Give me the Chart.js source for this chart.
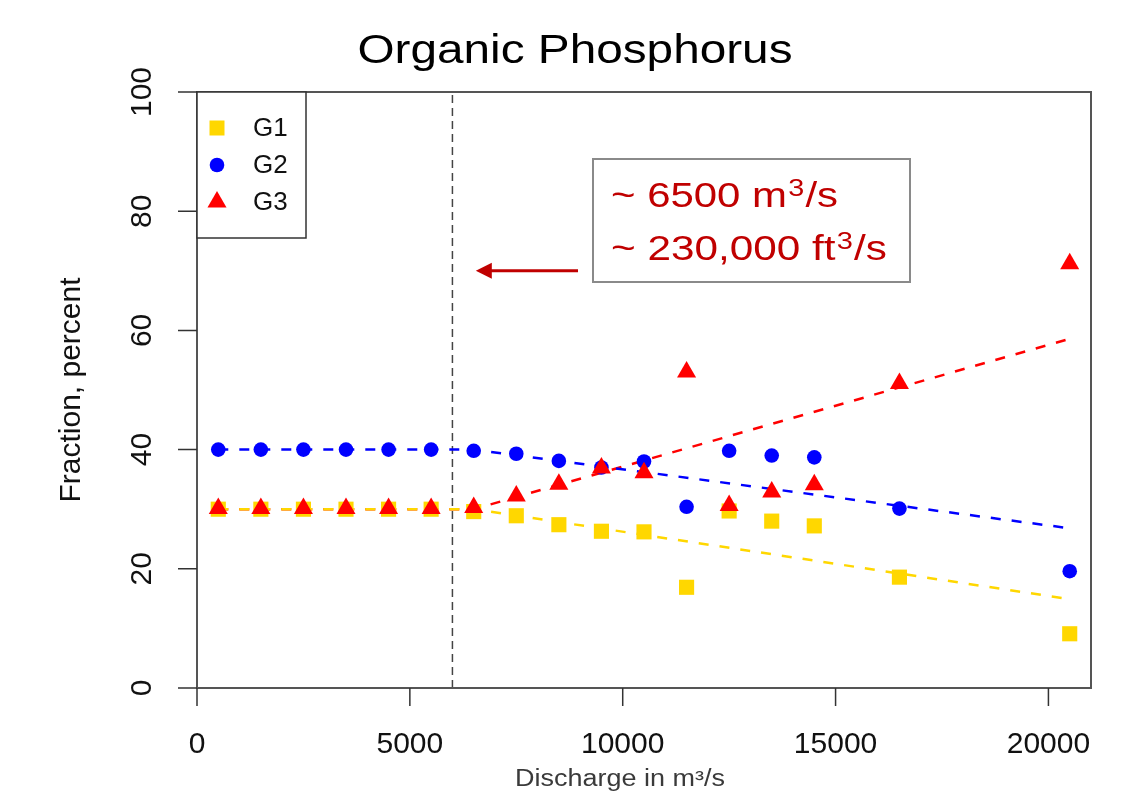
<!DOCTYPE html>
<html>
<head>
<meta charset="utf-8">
<script src="https://cdn.jsdelivr.net/npm/chart.js@4.4.1/dist/chart.umd.min.js"></script>
<style>
  body { margin: 0; background: #fff; }
  canvas { display: block; }
</style>
</head>
<body>
<canvas id="opChart" width="1123" height="794"></canvas>
<script>
// Discharge classes (m3/s) and fraction of organic phosphorus per group
const discharge = [500, 1500, 2500, 3500, 4500, 5500, 6500, 7500, 8500, 9500, 10500, 11500, 12500, 13500, 14500, 16500, 20500];
const g1 = [30, 30, 30, 30, 30, 30, 29.6, 28.9, 27.4, 26.3, 26.2, 16.9, 29.7, 28.0, 27.2, 18.6, 9.1];
const g2 = [40, 40, 40, 40, 40, 40, 39.8, 39.3, 38.1, 37.0, 38.0, 30.4, 39.8, 39.0, 38.7, 30.1, 19.6];
const g3 = [30.1, 30.1, 30.1, 30.1, 30.1, 30.1, 30.3, 32.2, 34.2, 36.9, 36.1, 53.0, 30.6, 32.9, 34.1, 51.1, 71.2];

// piecewise trend lines (flat, then linear after the break)
const trendX = [500, 6500, 20500];
const g1Trend = [30, 30, 14.9];
const g2Trend = [40, 40, 26.8];
const g3Trend = [30, 30, 58.6];

const breakDischarge = 6000;
const xTicks = [0, 5000, 10000, 15000, 20000];
const yTicks = [0, 20, 40, 60, 80, 100];

const FONT = '"Liberation Sans", Arial, Helvetica, sans-serif';
const YELLOW = '#FFD700';
const BLUE = '#0000FF';
const RED = '#FF0000';
const DARKRED = '#C00000';

function pts(xs, ys) {
    return xs.map((x, i) => ({ x: x, y: ys[i] }));
}

function trend(label, ys, color) {
    return {
        label: label,
        data: pts(trendX, ys),
        showLine: true,
        borderColor: color,
        borderWidth: 2.5,
        borderDash: [10, 11],
        pointRadius: 0,
        fill: false,
        order: 10
    };
}

// text drawn with a target width (the reference text is a bit stretched)
function fitText(ctx, text, cx, cy, size, width, color) {
    ctx.save();
    ctx.font = size + 'px ' + FONT;
    ctx.fillStyle = color;
    ctx.textAlign = 'center';
    ctx.textBaseline = 'middle';
    const w = ctx.measureText(text).width;
    ctx.translate(cx, cy);
    if (width) ctx.scale(width / w, 1);
    ctx.fillText(text, 0, 0);
    ctx.restore();
}

// "~ 6500 m" + superscript 3 + "/s", stretched to a target width
function supLine(ctx, pre, post, x, baseline, width) {
    const big = '35px ' + FONT;
    const small = '24px ' + FONT;
    ctx.save();
    ctx.font = big;
    const w1 = ctx.measureText(pre).width;
    const w3 = ctx.measureText(post).width;
    ctx.font = small;
    const w2 = ctx.measureText('3').width;
    const total = w1 + w2 + 2 + w3;
    ctx.translate(x, baseline);
    ctx.scale(width / total, 1);
    ctx.font = big;
    ctx.fillText(pre, 0, 0);
    ctx.font = small;
    ctx.fillText('3', w1 + 1, -11);
    ctx.font = big;
    ctx.fillText(post, w1 + w2 + 2, 0);
    ctx.restore();
}

function marker(ctx, style, x, y, color) {
    ctx.save();
    ctx.fillStyle = color;
    ctx.beginPath();
    if (style === 'rect') {
        ctx.rect(x - 7.5, y - 7.5, 15, 15);
    } else if (style === 'circle') {
        ctx.arc(x, y, 7.3, 0, Math.PI * 2);
    } else {
        const r = 11;
        ctx.moveTo(x, y - r);
        ctx.lineTo(x + r * 0.866, y + r / 2);
        ctx.lineTo(x - r * 0.866, y + r / 2);
        ctx.closePath();
    }
    ctx.fill();
    ctx.restore();
}

// R-style frame, ticks, labels, legend and the annotation
const rStyle = {
    id: 'rStyle',
    afterDraw(chart) {
        const ctx = chart.ctx;
        const a = chart.chartArea;
        const xs = chart.scales.x;
        const ys = chart.scales.y;

        ctx.save();
        ctx.strokeStyle = '#555';
        ctx.lineWidth = 2;
        ctx.strokeRect(a.left, a.top, a.right - a.left, a.bottom - a.top);

        ctx.strokeStyle = '#333';
        ctx.lineWidth = 1.5;
        ctx.beginPath();
        xTicks.forEach(v => {
            const px = xs.getPixelForValue(v);
            ctx.moveTo(px, a.bottom);
            ctx.lineTo(px, a.bottom + 18);
        });
        yTicks.forEach(v => {
            const py = ys.getPixelForValue(v);
            ctx.moveTo(a.left - 19, py);
            ctx.lineTo(a.left, py);
        });
        ctx.stroke();
        ctx.restore();

        // tick labels
        ctx.save();
        ctx.fillStyle = '#111';
        ctx.font = '30px ' + FONT;
        ctx.textAlign = 'center';
        ctx.textBaseline = 'middle';
        xTicks.forEach(v => {
            ctx.fillText(String(v), xs.getPixelForValue(v), 745);
        });
        yTicks.forEach(v => {
            ctx.save();
            ctx.translate(143, ys.getPixelForValue(v));
            ctx.rotate(-Math.PI / 2);
            ctx.fillText(String(v), 0, 0);
            ctx.restore();
        });
        ctx.restore();

        // titles
        fitText(ctx, 'Organic Phosphorus', 575, 52, 41, 435, '#000');
        ctx.save();
        ctx.translate(72, 390);
        ctx.rotate(-Math.PI / 2);
        fitText(ctx, 'Fraction, percent', 0, 0, 30, 0, '#111');
        ctx.restore();
        fitText(ctx, 'Discharge in m\u00B3/s', 620, 780, 23, 210, '#3a3a3a');

        // legend
        ctx.save();
        ctx.strokeStyle = '#333';
        ctx.lineWidth = 1.5;
        ctx.fillStyle = '#fff';
        ctx.fillRect(a.left, a.top, 109, 146);
        ctx.strokeRect(a.left, a.top, 109, 146);
        const items = [['G1', 'rect', YELLOW], ['G2', 'circle', BLUE], ['G3', 'triangle', RED]];
        ctx.font = '26px ' + FONT;
        ctx.textBaseline = 'middle';
        items.forEach((it, i) => {
            const y = a.top + 36 + i * 37;
            marker(ctx, it[1], a.left + 20, y, it[2]);
            ctx.fillStyle = '#111';
            ctx.fillText(it[0], a.left + 56, y + 1);
        });
        ctx.restore();

        // annotation box
        ctx.save();
        ctx.fillStyle = '#fff';
        ctx.fillRect(593, 159, 317, 123);
        ctx.strokeStyle = '#8a8a8a';
        ctx.lineWidth = 2;
        ctx.strokeRect(593, 159, 317, 123);
        ctx.fillStyle = DARKRED;
        ctx.textBaseline = 'alphabetic';
        supLine(ctx, '~ 6500 m', '/s', 611, 207, 227);
        supLine(ctx, '~ 230,000 ft', '/s', 611, 260, 276);

        // arrow pointing at the break line
        const ay = ys.getPixelForValue(70);
        const tip = xs.getPixelForValue(6550);
        const tail = xs.getPixelForValue(8950);
        ctx.strokeStyle = DARKRED;
        ctx.lineWidth = 3;
        ctx.beginPath();
        ctx.moveTo(tail, ay);
        ctx.lineTo(tip + 14, ay);
        ctx.stroke();
        ctx.beginPath();
        ctx.moveTo(tip, ay);
        ctx.lineTo(tip + 16, ay - 8);
        ctx.lineTo(tip + 16, ay + 8);
        ctx.closePath();
        ctx.fill();
        ctx.restore();
    }
};

const ctx = document.getElementById('opChart').getContext('2d');
const opChart = new Chart(ctx, {
    type: 'scatter',
    data: {
        datasets: [
            {
                label: 'G3',
                data: pts(discharge, g3),
                pointStyle: 'triangle',
                pointRadius: 11,
                backgroundColor: RED,
                borderWidth: 0,
                order: 1
            },
            {
                label: 'G2',
                data: pts(discharge, g2),
                pointStyle: 'circle',
                pointRadius: 7.3,
                backgroundColor: BLUE,
                borderWidth: 0,
                order: 2
            },
            {
                label: 'G1',
                data: pts(discharge, g1),
                pointStyle: 'rect',
                pointRadius: 10.7,
                backgroundColor: YELLOW,
                borderWidth: 0,
                order: 3
            },
            trend('G1 trend', g1Trend, YELLOW),
            trend('G2 trend', g2Trend, BLUE),
            trend('G3 trend', g3Trend, RED),
            {
                label: 'break',
                data: [{ x: breakDischarge, y: 0 }, { x: breakDischarge, y: 100 }],
                showLine: true,
                borderColor: '#444',
                borderWidth: 1.5,
                borderDash: [8, 5],
                pointRadius: 0,
                order: 11
            }
        ]
    },
    options: {
        responsive: false,
        animation: false,
        layout: {
            padding: { left: 197, right: 32, top: 92, bottom: 106 }
        },
        scales: {
            x: { type: 'linear', min: 0, max: 21000, display: false },
            y: { min: 0, max: 100, display: false }
        },
        plugins: {
            legend: { display: false },
            tooltip: { enabled: false }
        }
    },
    plugins: [rStyle]
});
</script>
</body>
</html>
